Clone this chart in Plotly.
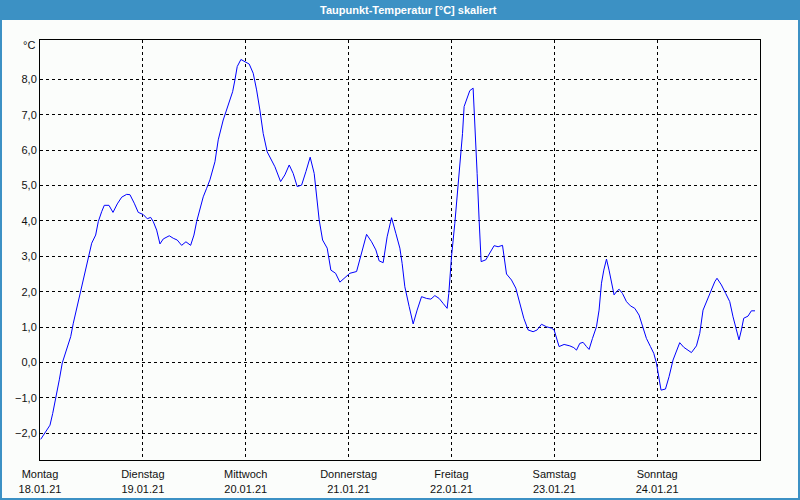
import plotly.graph_objects as go

# hours since Monday 18.01.21 00:00
hours = [0.16, 1.17, 2.33, 2.96, 3.73, 4.50, 5.20, 6.23, 7.16, 7.77, 8.56, 9.49, 10.50, 11.27,
         12.06, 12.99, 13.60, 14.39, 15.00, 16.09, 17.03, 18.03, 19.06, 20.22, 20.99, 21.99,
         22.93, 24.09, 25.03, 25.82, 26.43, 27.22, 27.99, 28.76, 30.16, 31.09, 32.02, 33.05,
         34.05, 35.15, 35.92, 36.55, 37.32, 38.09, 38.88, 39.65, 40.82, 41.59, 42.75, 43.92,
         44.95, 45.48, 46.02, 46.88, 47.81, 48.82, 49.75, 50.54, 51.31, 52.08, 53.01, 54.04,
         54.81, 56.14, 57.14, 58.15, 59.08, 60.01, 61.04, 62.04, 63.04, 63.98, 64.54, 65.14,
         65.94, 67.01, 67.87, 68.97, 69.97, 70.90, 72.30, 73.87, 75.03, 76.20, 77.37, 78.37,
         79.14, 80.07, 81.00, 82.03, 83.03, 83.97, 84.50, 85.13, 86.14, 87.07, 88.00, 89.03,
         90.19, 91.20, 92.13, 93.13, 94.06, 95.00, 95.39, 96.02, 96.79, 97.56, 98.12, 98.59,
         98.96, 99.66, 100.29, 101.06, 101.46, 102.00, 102.46, 102.93, 104.02, 104.96, 105.96,
         106.89, 107.92, 108.85, 110.02, 111.02, 112.12, 112.89, 113.89, 115.06, 116.00,
         117.02, 118.18, 119.35, 119.96, 120.51, 121.12, 122.29, 123.62, 124.55, 125.18,
         125.95, 126.72, 127.51, 128.12, 128.91, 129.84, 130.45, 131.01, 131.55, 132.18,
         132.78, 133.34, 133.95, 134.51, 135.12, 135.91, 136.84, 137.77, 138.78, 139.78,
         140.71, 141.50, 142.44, 143.21, 143.84, 144.44, 144.91, 145.94, 146.78, 147.71,
         148.50, 149.27, 150.21, 151.21, 152.00, 153.17, 153.94, 154.71, 155.64, 156.67,
         157.44, 157.97, 159.00, 160.00, 160.94, 161.71, 162.50, 163.10, 163.66, 164.20,
         165.20, 165.99, 166.83]

dewpoint = [-2.17, -2.00, -1.77, -1.44, -1.00, -0.49, -0.01, 0.40, 0.73, 1.11, 1.53, 2.05, 2.61,
            2.99, 3.37, 3.60, 3.98, 4.26, 4.44, 4.44, 4.24, 4.48, 4.67, 4.75, 4.74, 4.50, 4.24,
            4.18, 4.06, 4.10, 3.98, 3.74, 3.35, 3.49, 3.58, 3.51, 3.46, 3.31, 3.41, 3.31, 3.60,
            3.98, 4.31, 4.68, 4.92, 5.16, 5.67, 6.29, 6.85, 7.27, 7.65, 7.98, 8.36, 8.56, 8.50,
            8.43, 8.17, 7.70, 7.13, 6.47, 5.95, 5.72, 5.53, 5.11, 5.30, 5.58, 5.34, 4.97, 5.01,
            5.39, 5.80, 5.34, 4.68, 4.03, 3.46, 3.23, 2.61, 2.52, 2.27, 2.38, 2.52, 2.57, 3.08,
            3.62, 3.41, 3.18, 2.87, 2.82, 3.55, 4.09, 3.65, 3.23, 2.80, 2.14, 1.58, 1.09, 1.48,
            1.86, 1.81, 1.79, 1.89, 1.81, 1.67, 1.53, 1.95, 2.99, 3.93, 4.97, 5.63, 6.47, 7.23,
            7.46, 7.68, 7.75, 6.85, 5.34, 4.03, 2.85, 2.90, 3.08, 3.30, 3.27, 3.31, 2.50, 2.33,
            2.10, 1.58, 1.25, 0.92, 0.87, 0.92, 1.08, 1.01, 0.97, 0.92, 0.68, 0.45, 0.51, 0.47,
            0.42, 0.35, 0.54, 0.57, 0.45, 0.37, 0.68, 1.01, 1.48, 2.24, 2.61, 2.92, 2.61, 2.24,
            1.91, 2.00, 2.07, 1.95, 1.72, 1.60, 1.53, 1.34, 1.01, 0.68, 0.45, 0.26, -0.02, -0.49,
            -0.78, -0.75, -0.40, 0.07, 0.35, 0.56, 0.43, 0.35, 0.28, 0.47, 0.82, 1.48, 1.77,
            2.05, 2.28, 2.38, 2.19, 1.95, 1.72, 1.29, 0.92, 0.64, 0.92, 1.25, 1.31, 1.46, 1.46]

day_ticks = [0, 24, 48, 72, 96, 120, 144]
day_names = ["Montag", "Dienstag", "Mittwoch", "Donnerstag", "Freitag", "Samstag", "Sonntag"]
day_dates = ["18.01.21", "19.01.21", "20.01.21", "21.01.21", "22.01.21", "23.01.21", "24.01.21"]
y_ticks = [-2, -1, 0, 1, 2, 3, 4, 5, 6, 7, 8]

W, H = 800, 500
ML, MR, MT, MB = 40, 40, 40, 40
PW, PH = W - ML - MR, H - MT - MB
BLUE = "#3c91c4"
FONT = "Liberation Sans Narrow, Liberation Sans, Arial, sans-serif"

def px_x(p):
    return (p - ML) / PW

def px_y(p):
    return (H - MB - p) / PH

fig = go.Figure()
fig.add_trace(go.Scatter(x=hours, y=dewpoint, mode="lines",
                         line=dict(color="#0000ff", width=1), hoverinfo="skip",
                         showlegend=False))

grid = dict(showgrid=True, gridcolor="#000000", gridwidth=1, griddash="3px,3px",
            zeroline=False, showline=True, linecolor="#000000", linewidth=1, mirror=True,
            automargin=False, tickfont=dict(family=FONT, size=11, color="#111111"))

fig.update_layout(
    width=W, height=H,
    margin=dict(l=ML, r=MR, t=MT, b=MB, pad=0, autoexpand=False),
    paper_bgcolor="#fbfdfb", plot_bgcolor="#fbfdfb",
    separators=", ",
    showlegend=False,
    xaxis=dict(range=[0, 168], tickvals=day_ticks, ticks="outside", ticklen=4,
               tickcolor="rgba(0,0,0,0)",
               ticktext=[f"{n}<br>{d}" for n, d in zip(day_names, day_dates)], **grid),
    yaxis=dict(range=[-2.754, 9.11], tickvals=y_ticks, tickformat=".1f", ticks="", **grid),
)

# frame and title bar
fig.add_shape(type="rect", xref="paper", yref="paper",
              x0=px_x(0), x1=px_x(W), y0=px_y(H), y1=px_y(0),
              line=dict(color=BLUE, width=4), fillcolor="rgba(0,0,0,0)", layer="above")
fig.add_shape(type="rect", xref="paper", yref="paper",
              x0=px_x(0), x1=px_x(W), y0=px_y(20), y1=px_y(0),
              line=dict(width=0), fillcolor=BLUE, layer="above")
fig.add_annotation(text="Taupunkt-Temperatur [°C] skaliert", xref="paper", yref="paper",
                   x=px_x(409), y=px_y(10), xanchor="center", yanchor="middle",
                   showarrow=False,
                   font=dict(family="Liberation Sans, Arial, sans-serif", size=11,
                             color="white", weight="bold"))
fig.add_annotation(text="°C", xref="paper", yref="paper", x=px_x(37), y=px_y(45),
                   xanchor="right", yanchor="middle", showarrow=False,
                   font=dict(family=FONT, size=11, color="#111111"))

fig.write_html("out.html", config={"displayModeBar": False},
               post_script="document.body.style.margin='0';document.body.style.overflow='hidden';")
